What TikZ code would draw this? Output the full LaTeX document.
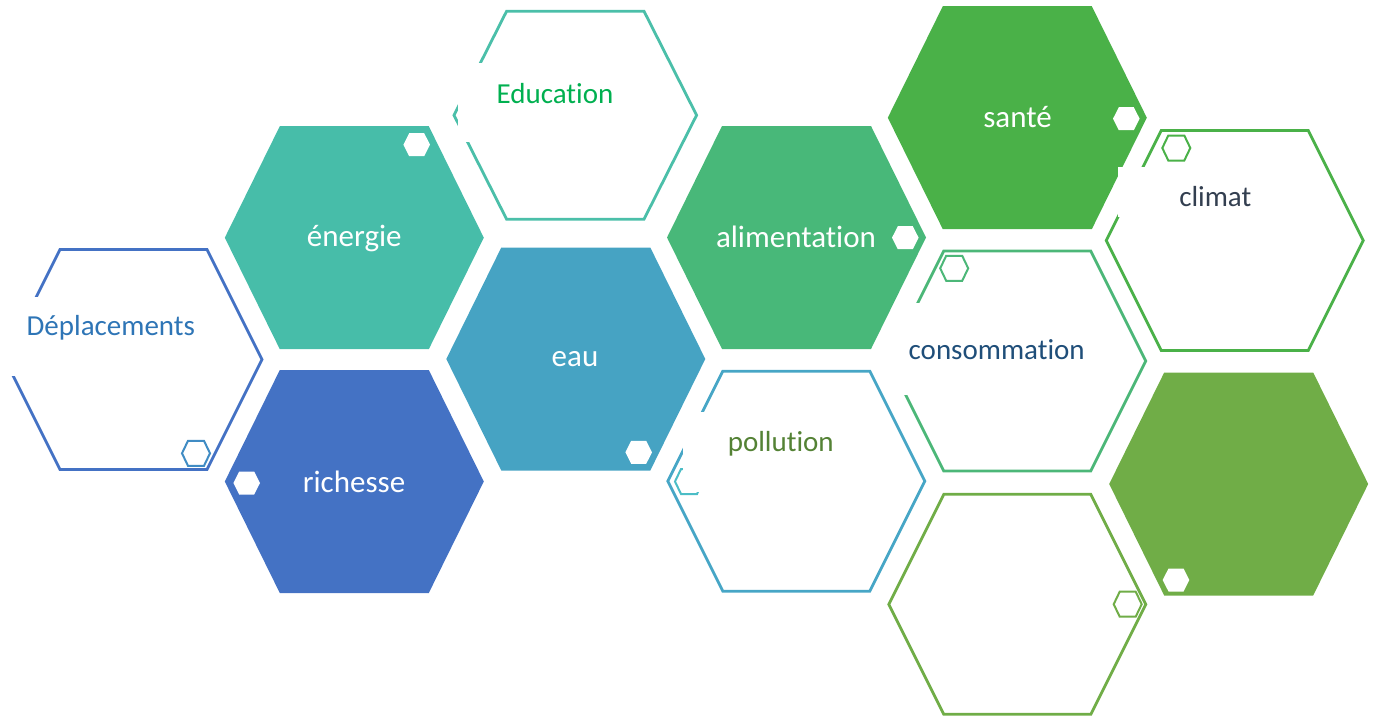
\documentclass[tikz,border=0pt]{standalone}
\usepackage{fontspec}
\setmainfont{Carlito}[Ligatures={NoCommon}]
\definecolor{cEnergie}{RGB}{71,189,169}
\definecolor{cEau}{RGB}{70,163,195}
\definecolor{cRich}{RGB}{68,114,196}
\definecolor{cAlim}{RGB}{72,184,121}
\definecolor{cSante}{RGB}{74,177,72}
\definecolor{cOlive}{RGB}{112,173,71}
\definecolor{cEduc}{RGB}{75,191,169}
\definecolor{cDepl}{RGB}{68,114,196}
\definecolor{cPoll}{RGB}{71,166,198}
\definecolor{cCons}{RGB}{76,183,120}
\definecolor{cClim}{RGB}{74,177,72}
\definecolor{cDeplS}{RGB}{64,140,196}
\definecolor{cPollS}{RGB}{75,189,198}
\definecolor{tDepl}{RGB}{46,117,182}
\definecolor{tEduc}{RGB}{0,176,80}
\definecolor{tPoll}{RGB}{84,130,53}
\definecolor{tCons}{RGB}{31,78,121}
\definecolor{tClim}{RGB}{51,63,80}
\tikzset{
  bighex/.pic={\path[pic actions] (-129.5,0) -- (-74.5,-111.5) -- (74.5,-111.5) -- (129.5,0) -- (74.5,111.5) -- (-74.5,111.5) -- cycle;},
  ohex/.pic={\path[pic actions] (-128.5,0) -- (-73.5,-110) -- (73.5,-110) -- (128.5,0) -- (73.5,110) -- (-73.5,110) -- cycle;},
  edhex/.pic={\path[pic actions] (-121.3,0) -- (-68.7,-104) -- (68.7,-104) -- (121.3,0) -- (68.7,104) -- (-68.7,104) -- cycle;},
  shex/.pic={\path[pic actions] (-13.3,0) -- (-7.5,-11.5) -- (7.5,-11.5) -- (13.3,0) -- (7.5,11.5) -- (-7.5,11.5) -- cycle;},
  oshex/.pic={\path[pic actions] (-14,0) -- (-8,-12.5) -- (8,-12.5) -- (14,0) -- (8,12.5) -- (-8,12.5) -- cycle;},
  outl/.style={draw=#1, line width=2.8pt, fill=white, line join=miter},
  smallo/.style={draw=#1, line width=2pt, fill=white},
  smallw/.style={fill=white, draw=none},
  mask/.style={fill=white, draw=none},
  ftext/.style={text=white, font=\fontsize{31}{36}\selectfont, inner sep=0pt},
  otext/.style={text=#1, font=\fontsize{29}{34}\selectfont, inner sep=0pt}
}
\begin{document}
\begin{tikzpicture}[x=1pt,y=-1pt]
\useasboundingbox (0,0) rectangle (1373,717);
% Deplacements
\pic[outl=cDepl] at (133.5,359.4) {ohex};
\pic[smallo=cDeplS] at (196,453.3) {oshex};
\fill[mask] (-5,297) rectangle (222,376);
% energie
\pic[fill=cEnergie] at (354.3,237.7) {bighex};
\pic[smallw] at (416.7,144.7) {shex};
% richesse
\pic[fill=cRich] at (354.3,481.5) {bighex};
\pic[smallw] at (246.7,483) {shex};
% Education
\pic[outl=cEduc] at (575.3,115.2) {edhex};
\fill[mask] (458,63.3) rectangle (660,141.7);
% eau
\pic[fill=cEau] at (575.8,359) {bighex};
\pic[smallw] at (638.7,452.3) {shex};
% pollution
\pic[outl=cPoll] at (796.3,481.2) {ohex};
\pic[smallo=cPollS] at (689,481.5) {oshex};
\fill[mask] (683,411.7) rectangle (860,492);
% consommation
\pic[outl=cCons] at (1017.2,361) {ohex};
\pic[smallo=cCons] at (954.2,268.3) {oshex};
\fill[mask] (884,303.3) rectangle (1095,395);
% alimentation
\pic[fill=cAlim] at (796.5,237.5) {bighex};
\pic[smallw] at (905.3,237.7) {shex};
% sante
\pic[fill=cSante] at (1017.3,117.7) {bighex};
\pic[smallw] at (1126.3,118.7) {shex};
% climat
\pic[outl=cClim] at (1234.7,240.5) {ohex};
\pic[smallo=cClim] at (1176.3,148) {oshex};
\fill[mask] (1118,166.7) rectangle (1300,217);
% olive filled
\pic[fill=cOlive] at (1238.7,484) {bighex};
\pic[smallw] at (1176,580) {shex};
% bottom outline
\pic[outl=cOlive] at (1017.3,604.3) {ohex};
\pic[smallo=cOlive] at (1127.7,604.2) {oshex};
% texts
\node[otext=tDepl] (depl) at (110.8,328) {Déplacements};
\node[ftext] (ener) at (354.3,238) {énergie};
\node[ftext] (rich) at (354,482) {richesse};
\node[otext=tEduc] (educ) at (555,94) {Education};
\node[ftext] (eau) at (575,359) {eau};
\node[otext=tPoll] (poll) at (780.8,444) {pollution};
\node[ftext] (alim) at (796,237) {alimentation};
\node[otext=tCons] (cons) at (996.7,350) {consommation};
\node[ftext] (sante) at (1017.5,117) {santé};
\node[otext=tClim] (clim) at (1215.3,197) {climat};
\end{tikzpicture}
\end{document}
